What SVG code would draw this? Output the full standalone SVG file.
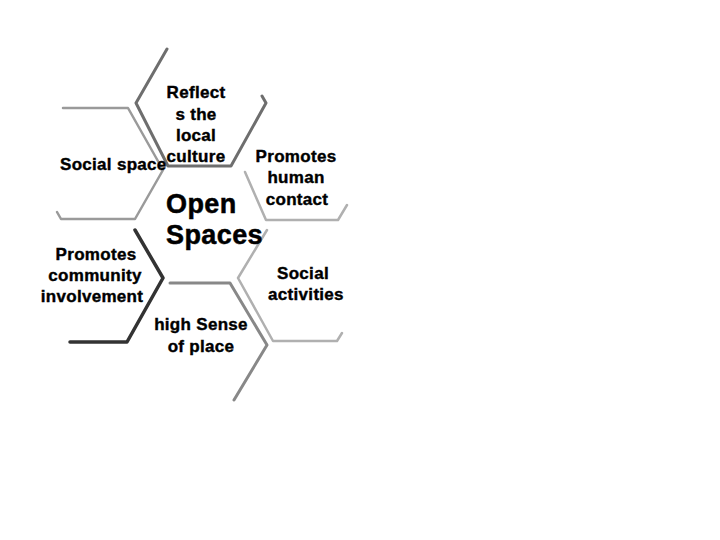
<svg xmlns="http://www.w3.org/2000/svg" width="720" height="540" viewBox="0 0 720 540">
<style>
.t{font-family:"Liberation Sans",Arial,sans-serif;font-weight:bold;font-size:17px;fill:#000;stroke:#000;stroke-width:0.4px;letter-spacing:0.3px}
.c{text-anchor:middle}
.big{font-size:27px;stroke-width:0.5px;letter-spacing:0.4px}
.ln{fill:none;stroke-linejoin:round;stroke-linecap:round}
</style>
<rect width="720" height="540" fill="#fff"/>
<g id="connectors">
<path class="ln" d="M167,49 L136,103 L168,166 L231,166 L266,103 L262,96" stroke="#6e6e6e" stroke-width="3"/>
<path class="ln" d="M63,108 L128,108 L163,170 L135,219 L61,219 L57,212" stroke="#9a9a9a" stroke-width="2.5"/>
<path class="ln" d="M245,172 L266,220 L338,220 L347,205" stroke="#b0b0b0" stroke-width="2.5"/>
<path class="ln" d="M135,230 L163,278 L127,342 L70,342" stroke="#333" stroke-width="3.5"/>
<path class="ln" d="M170,283 L230,283 L267,345 L234,400" stroke="#888" stroke-width="3"/>
<path class="ln" d="M267,230 L238,278 L273,341 L337,341 L342,333" stroke="#b0b0b0" stroke-width="2.5"/>
</g>
<g id="center">
<text class="t big" x="166" y="213">Open</text>
<text class="t big" x="166" y="244">Spaces</text>
</g>
<g id="reflects">
<text class="t c" x="196" y="98">Reflect</text>
<text class="t c" x="196" y="120">s the</text>
<text class="t c" x="196" y="141">local</text>
<text class="t c" x="196" y="162">culture</text>
</g>
<g id="social-space">
<text class="t" x="60" y="170">Social space</text>
</g>
<g id="human-contact">
<text class="t c" x="296" y="162">Promotes</text>
<text class="t c" x="296" y="183">human</text>
<text class="t c" x="297" y="205">contact</text>
</g>
<g id="community">
<text class="t c" x="96" y="260">Promotes</text>
<text class="t c" x="95" y="281">community</text>
<text class="t c" x="92" y="302">involvement</text>
</g>
<g id="social-activities">
<text class="t c" x="303" y="279">Social</text>
<text class="t c" x="306" y="300">activities</text>
</g>
<g id="sense-of-place">
<text class="t c" x="201" y="330">high Sense</text>
<text class="t c" x="201" y="352">of place</text>
</g>
</svg>
